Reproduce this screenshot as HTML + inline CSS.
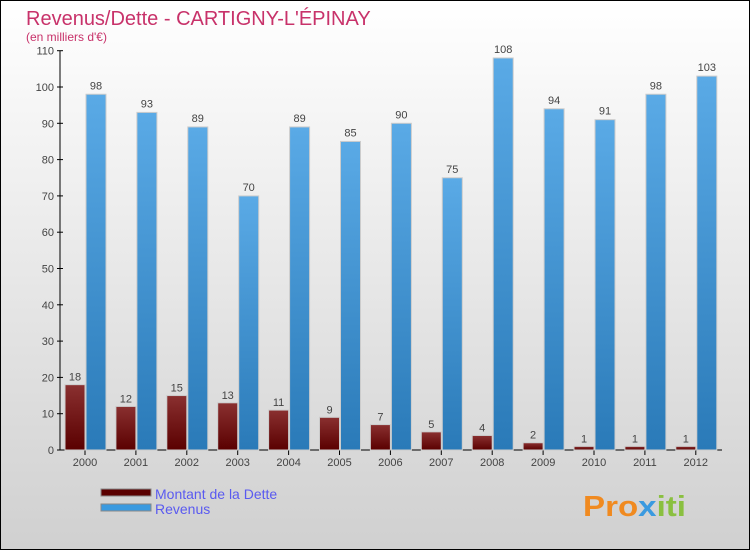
<!DOCTYPE html>
<html><head><meta charset="utf-8"><style>
body{margin:0;width:750px;height:550px;overflow:hidden;font-family:"Liberation Sans",sans-serif}
</style></head><body>
<svg id="chart" width="750" height="550" xmlns="http://www.w3.org/2000/svg">
<defs>
<linearGradient id="bg" x1="0" y1="0" x2="0" y2="1"><stop offset="0" stop-color="#ffffff"/><stop offset="1" stop-color="#d0d0d0"/></linearGradient>
<linearGradient id="gd" x1="0" y1="0" x2="0" y2="1"><stop offset="0" stop-color="#8a3030"/><stop offset="1" stop-color="#5a0000"/></linearGradient>
<linearGradient id="gr" x1="0" y1="0" x2="0" y2="1"><stop offset="0" stop-color="#5aaae6"/><stop offset="1" stop-color="#2a7ab8"/></linearGradient>
</defs>
<rect x="0.5" y="0.5" width="749" height="549" fill="url(#bg)" stroke="#000"/>
<text x="26" y="25" font-size="20" fill="#c8326a">Revenus/Dette - CARTIGNY-L'ÉPINAY</text>
<text x="26" y="41" font-size="12" fill="#c8326a">(en milliers d'€)</text>
<g id="axes"></g><g id="bars"></g>
<rect x="101" y="489" width="50" height="7" fill="#5a0000" stroke="#888" stroke-width="1"/>
<text x="155" y="499" font-size="14" fill="#5a5af0">Montant de la Dette</text>
<rect x="101" y="504" width="50" height="7" fill="#3a9ae0" stroke="#888" stroke-width="1"/>
<text x="155" y="514" font-size="14" fill="#5a5af0">Revenus</text>
<text x="583" y="516" font-size="29" font-weight="bold" fill="#f08a20" textLength="103" lengthAdjust="spacingAndGlyphs">Pro<tspan fill="#3a9ae0">x</tspan><tspan fill="#8ac040">iti</tspan></text>
</svg>
<script>
const years=["2000","2001","2002","2003","2004","2005","2006","2007","2008","2009","2010","2011","2012"];
const dette=[18,12,15,13,11,9,7,5,4,2,1,1,1];
const revenus=[98,93,89,70,89,85,90,75,108,94,91,98,103];
const ticks=[0,10,20,30,40,50,60,70,80,90,100,110];
const NS="http://www.w3.org/2000/svg";
const y=v=>450-v*3.63;
const x=i=>85+i*50.9;
function mk(t,a,p){const e=document.createElementNS(NS,t);for(const k in a)e.setAttribute(k,a[k]);p.appendChild(e);return e;}
const ax=document.getElementById('axes'),bs=document.getElementById('bars');
const yl=mk('line',{x1:60,y1:y(110),x2:60,y2:450,stroke:'#000'},ax);


const xl=mk('line',{x1:60,y1:450,x2:722,y2:450,stroke:'#000'},ax);


ticks.forEach(t=>{
 const l=mk('line',{x1:57,y1:y(t),x2:63,y2:y(t),stroke:'#000'},ax);
 
 
 const tx=mk('text',{x:54,y:y(t)+4,'font-size':11,'text-anchor':'end',fill:'#444'},ax);tx.textContent=t;
 
 
});
years.forEach((yr,i)=>{
 const c=x(i);
 const tl=mk('line',{x1:c,y1:450,x2:c,y2:455,stroke:'#000'},ax);
 
 
 const t=mk('text',{x:c,y:466,'font-size':11,'text-anchor':'middle',fill:'#444'},ax);t.textContent=yr;
 
 
 const d=mk('rect',{x:c-20,y:y(dette[i]),width:20,height:450-y(dette[i]),fill:'url(#gd)',stroke:'#ccc','stroke-width':1},bs);
 
 
 const dl=mk('text',{x:c-10,y:y(dette[i])-4,'font-size':11,'text-anchor':'middle',fill:'#444'},bs);dl.textContent=dette[i];
 
 
 const r=mk('rect',{x:c+1,y:y(revenus[i]),width:20,height:450-y(revenus[i]),fill:'url(#gr)',stroke:'#ccc','stroke-width':1},bs);
 
 
 const rl=mk('text',{x:c+11,y:y(revenus[i])-5,'font-size':11,'text-anchor':'middle',fill:'#444'},bs);rl.textContent=revenus[i];
 
 
});
</script>
</body></html>
